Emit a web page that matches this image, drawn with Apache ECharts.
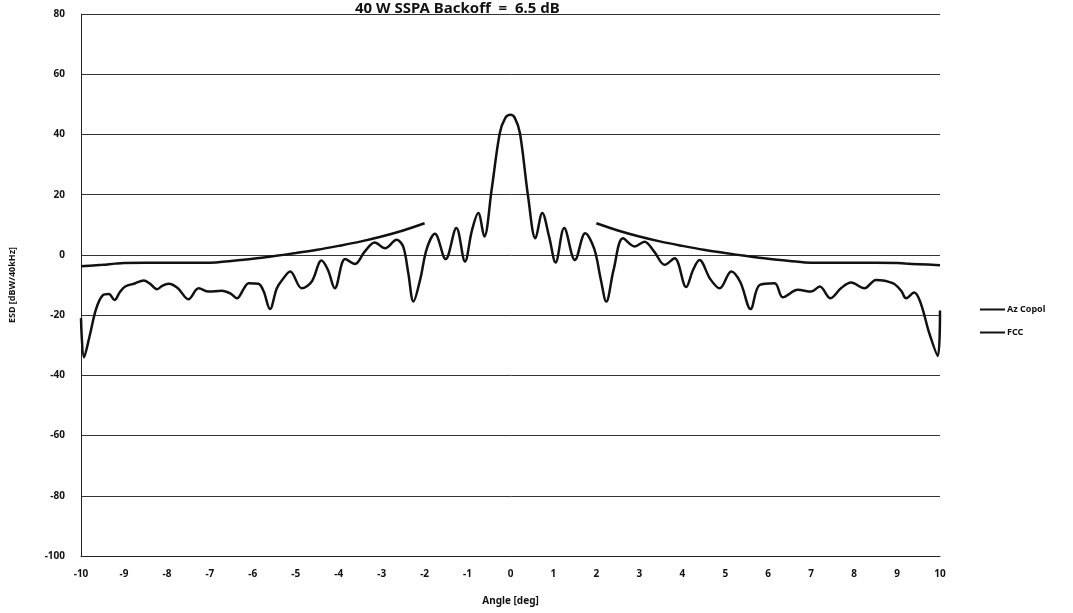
<!DOCTYPE html>
<html>
<head>
<meta charset="utf-8">
<script src="https://cdn.jsdelivr.net/npm/echarts@6/dist/echarts.min.js"></script>
<style>html,body{margin:0;padding:0;background:#fff;}#c{width:1073px;height:613px;}</style>
</head>
<body>
<div id="c"></div>
<script>
const titleText = "40 W SSPA Backoff  =  6.5 dB";
const xName = "Angle [deg]";
const yName = "ESD [dBW/40kHz]";
const seriesNames = ["Az Copol", "FCC"];

const copolAngles = [-10.0,-9.93,-9.8,-9.65,-9.5,-9.35,-9.22,-9.1,-8.97,-8.75,-8.54,-8.4,-8.23,-8.1,-7.96,-7.75,-7.5,-7.26,-7.03,-6.72,-6.5,-6.37,-6.2,-6.1,-5.87,-5.75,-5.6,-5.44,-5.3,-5.13,-4.86,-4.63,-4.4,-4.25,-4.09,-3.85,-3.62,-3.4,-3.16,-2.92,-2.65,-2.5,-2.38,-2.26,-2.1,-1.95,-1.76,-1.51,-1.26,-1.06,-0.9,-0.75,-0.61,-0.44,-0.25,-0.12,0.0,0.1,0.22,0.41,0.58,0.74,0.9,1.05,1.25,1.5,1.74,1.95,2.1,2.23,2.4,2.62,2.89,3.12,3.35,3.59,3.82,4.09,4.25,4.4,4.65,4.87,5.14,5.35,5.59,5.8,6.15,6.34,6.69,7.0,7.2,7.45,7.7,7.93,8.24,8.51,8.9,9.1,9.21,9.4,9.55,9.75,9.95,10.0];
const copolValues = [-21,-34,-27,-18,-13.5,-13,-15,-12.5,-10.5,-9.5,-8.5,-9.5,-11.4,-10.2,-9.6,-11,-14.7,-11.1,-12.2,-11.9,-13,-14.4,-11,-9.4,-9.6,-12,-18,-11.1,-8,-5.5,-11.1,-8.9,-1.9,-5,-11.1,-1.4,-3,1,4.1,2.2,5,2.8,-6,-15.5,-8,2,7,-1.4,8.9,-2.2,8,13.9,6.1,21.6,40.4,45.5,46.5,45.5,40.4,19.4,5.5,13.9,6,-2.5,8.9,-1.7,7.2,2,-8,-15.5,-5,5.5,2.8,4.4,1,-3.3,-1.1,-10.7,-5,-1.7,-8,-11.1,-5.5,-9,-18,-10,-9.4,-14.1,-11.6,-12.2,-10.5,-14.4,-11,-9.2,-11.1,-8.3,-9.4,-12,-14.4,-12.5,-16,-26,-33.6,-18.5];

const fccAngles = [-10,-9.5,-9.2,-9,-8,-7,-6.5,-6,-5.5,-5,-4.5,-4,-3.5,-3,-2.5,-2,0,2,2.5,3,3.5,4,4.5,5,5.5,6,6.5,7,8,9,9.2,9.5,10];
const fccValues = [-3.8,-3.3,-2.9,-2.7,-2.6,-2.6,-2.0,-1.3,-0.4,0.6,1.7,3.0,4.4,6.1,8.1,10.5,null,10.5,8.1,6.1,4.4,3.0,1.7,0.6,-0.4,-1.3,-2.0,-2.6,-2.6,-2.7,-2.9,-3.1,-3.4];

const xTicks = { min: -10, max: 10, step: 1 };
const yTicks = { min: -100, max: 80, step: 20 };

const zip = (a, b) => a.map((v, i) => [v, b[i]]);

const chart = echarts.init(document.getElementById('c'), null, { renderer: 'canvas' });
const font = '"Noto Sans", "DejaVu Sans", sans-serif';
chart.setOption({
  backgroundColor: '#ffffff',
  animation: false,
  title: {
    text: titleText,
    left: 350, top: -4,
    textStyle: { fontFamily: font, fontWeight: 'bold', fontSize: 15, color: '#111' }
  },
  legend: {
    orient: 'vertical',
    left: 975, top: 300,
    itemWidth: 25, itemHeight: 2, itemGap: 14,
    icon: 'rect',
    data: seriesNames,
    textStyle: { fontFamily: font, fontWeight: 'bold', fontSize: 9, color: '#111', padding: [0,0,0,-3] }
  },
  grid: { left: 77, right: 133, top: 14, bottom: 57, containLabel: false },
  xAxis: {
    type: 'value', min: xTicks.min, max: xTicks.max, interval: xTicks.step,
    name: xName, nameLocation: 'middle', nameGap: 40,
    nameTextStyle: { fontFamily: font, fontWeight: 'bold', fontSize: 10, color: '#111' },
    axisLine: { show: true, onZero: false, lineStyle: { color: '#222', width: 1 } },
    axisTick: { show: false },
    splitLine: { show: false },
    axisLabel: { fontFamily: font, fontWeight: 'bold', fontSize: 10, color: '#111', margin: 13 }
  },
  yAxis: {
    type: 'value', min: yTicks.min, max: yTicks.max, interval: yTicks.step,
    name: yName, nameLocation: 'middle', nameGap: 64, nameRotate: 90,
    nameTextStyle: { fontFamily: font, fontWeight: 'bold', fontSize: 9, color: '#111' },
    axisLine: { show: true, onZero: false, lineStyle: { color: '#222', width: 1 } },
    axisTick: { show: false },
    splitLine: { show: true, lineStyle: { color: '#333', width: 1 } },
    axisLabel: { fontFamily: font, fontWeight: 'bold', fontSize: 10, color: '#111', margin: 16 }
  },
  series: [
    {
      name: seriesNames[0], type: 'line', data: zip(copolAngles, copolValues),
      smooth: 0.35, showSymbol: false, symbol: 'none',
      lineStyle: { color: '#111', width: 2.5 }, itemStyle: { color: '#111' }
    },
    {
      name: seriesNames[1], type: 'line', data: zip(fccAngles, fccValues),
      smooth: 0.3, showSymbol: false, symbol: 'none', connectNulls: false,
      lineStyle: { color: '#111', width: 2.5 }, itemStyle: { color: '#111' }
    }
  ]
});
</script>
</body>
</html>
